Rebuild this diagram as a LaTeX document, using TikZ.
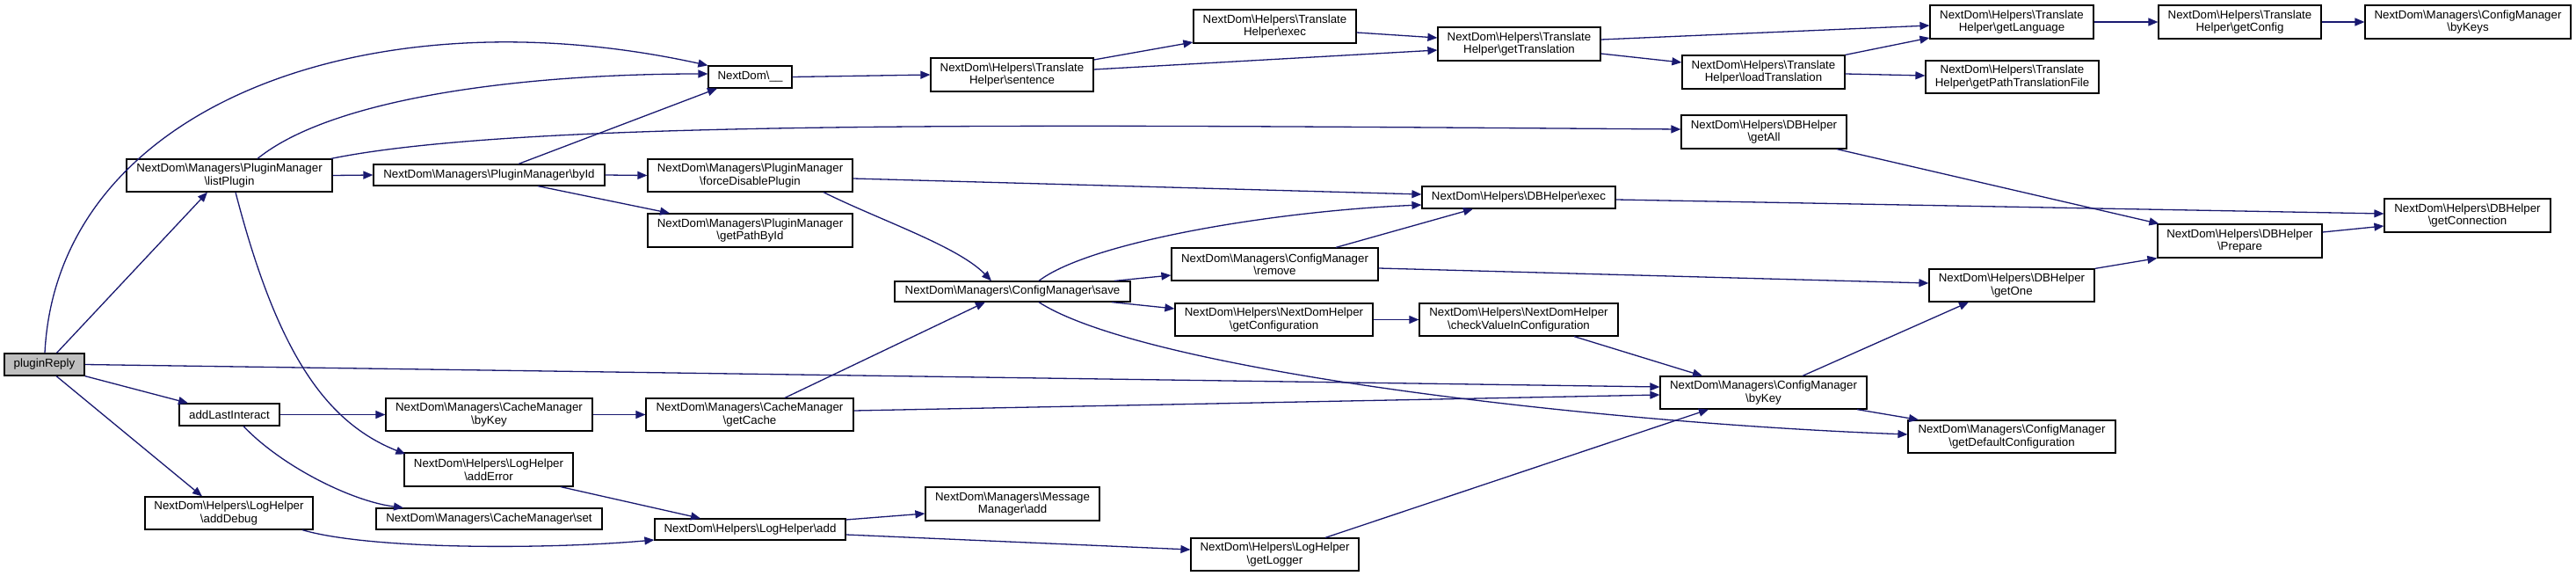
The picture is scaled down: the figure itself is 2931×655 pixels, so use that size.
\documentclass[tikz,border=0pt]{standalone}
\usepackage{fontspec}
\setmainfont{Liberation Sans}
\usetikzlibrary{arrows.meta}
\definecolor{edgeblue}{HTML}{191970}
\definecolor{rootgray}{HTML}{BFBFBF}
\newcommand{\bk}{\textbackslash}
\tikzset{
  fn/.style={draw=black, line width=1.2pt, fill=white, inner sep=0pt, align=center,
    font=\fontsize{13.3}{14.5}\selectfont},
  call/.style={draw=edgeblue, line width=1.3pt, -{Triangle[length=11pt,width=9pt]}},
}
\begin{document}
\begin{tikzpicture}[x=1pt,y=-1pt]
\useasboundingbox[fill=white] (0,0) rectangle (2931,655);
% nodes
\node[fn, fill=rootgray, minimum width=91pt, minimum height=25pt] (pr) at (50.5,414.5) {pluginReply};
\node[fn, minimum width=234pt, minimum height=37pt] (lp) at (261,199.5) {NextDom\bk Managers\bk PluginManager\\\bk listPlugin};
\node[fn, minimum width=114pt, minimum height=25pt] (ali) at (261,471.5) {addLastInteract};
\node[fn, minimum width=191pt, minimum height=37pt] (adbg) at (260.5,583.5) {NextDom\bk Helpers\bk LogHelper\\\bk addDebug};
\node[fn, minimum width=95pt, minimum height=25pt] (ndu) at (853.5,87.5) {NextDom\bk\_\_};
\node[fn, minimum width=263pt, minimum height=24pt] (byid) at (556.5,199) {NextDom\bk Managers\bk PluginManager\bk byId};
\node[fn, minimum width=235pt, minimum height=37pt] (cbk) at (556.5,471.5) {NextDom\bk Managers\bk CacheManager\\\bk byKey};
\node[fn, minimum width=192pt, minimum height=38pt] (aerr) at (556,534) {NextDom\bk Helpers\bk LogHelper\\\bk addError};
\node[fn, minimum width=257pt, minimum height=24pt] (cset) at (556.5,590) {NextDom\bk Managers\bk CacheManager\bk set};
\node[fn, minimum width=185pt, minimum height=38pt] (sent) at (1151.5,85) {NextDom\bk Helpers\bk Translate\\Helper\bk sentence};
\node[fn, minimum width=233pt, minimum height=37pt] (fdp) at (853.5,199.5) {NextDom\bk Managers\bk PluginManager\\\bk forceDisablePlugin};
\node[fn, minimum width=233pt, minimum height=38pt] (gpbi) at (853.5,262) {NextDom\bk Managers\bk PluginManager\\\bk getPathById};
\node[fn, minimum width=236pt, minimum height=37pt] (gc) at (853,471.5) {NextDom\bk Managers\bk CacheManager\\\bk getCache};
\node[fn, minimum width=217pt, minimum height=24pt] (ladd) at (853.5,602) {NextDom\bk Helpers\bk LogHelper\bk add};
\node[fn, minimum width=185pt, minimum height=38pt] (texec) at (1450.5,30) {NextDom\bk Helpers\bk Translate\\Helper\bk exec};
\node[fn, minimum width=185pt, minimum height=38pt] (gt) at (1728.5,50) {NextDom\bk Helpers\bk Translate\\Helper\bk getTranslation};
\node[fn, minimum width=268pt, minimum height=23pt] (save) at (1152,331.5) {NextDom\bk Managers\bk ConfigManager\bk save};
\node[fn, minimum width=235pt, minimum height=37pt] (rem) at (1450.5,300.5) {NextDom\bk Managers\bk ConfigManager\\\bk remove};
\node[fn, minimum width=225pt, minimum height=37pt] (gconf) at (1449.5,363.5) {NextDom\bk Helpers\bk NextDomHelper\\\bk getConfiguration};
\node[fn, minimum width=198pt, minimum height=38pt] (madd) at (1152,573) {NextDom\bk Managers\bk Message\\Manager\bk add};
\node[fn, minimum width=191pt, minimum height=37pt] (glog) at (1450.5,630.5) {NextDom\bk Helpers\bk LogHelper\\\bk getLogger};
\node[fn, minimum width=220pt, minimum height=25pt] (dbexec) at (1728,224.5) {NextDom\bk Helpers\bk DBHelper\bk exec};
\node[fn, minimum width=226pt, minimum height=37pt] (cvic) at (1728,363.5) {NextDom\bk Helpers\bk NextDomHelper\\\bk checkValueInConfiguration};
\node[fn, minimum width=185pt, minimum height=38pt] (lt) at (2006.5,82) {NextDom\bk Helpers\bk Translate\\Helper\bk loadTranslation};
\node[fn, minimum width=188pt, minimum height=38pt] (gall) at (2007,150) {NextDom\bk Helpers\bk DBHelper\\\bk getAll};
\node[fn, minimum width=235pt, minimum height=37pt] (cmbk) at (2006.5,446.5) {NextDom\bk Managers\bk ConfigManager\\\bk byKey};
\node[fn, minimum width=186pt, minimum height=38pt] (glang) at (2289,25) {NextDom\bk Helpers\bk Translate\\Helper\bk getLanguage};
\node[fn, minimum width=197pt, minimum height=37pt] (gptf) at (2289.5,87.5) {NextDom\bk Helpers\bk Translate\\Helper\bk getPathTranslationFile};
\node[fn, minimum width=188pt, minimum height=37pt] (gone) at (2289,324.5) {NextDom\bk Helpers\bk DBHelper\\\bk getOne};
\node[fn, minimum width=236pt, minimum height=37pt] (gdc) at (2289,496.5) {NextDom\bk Managers\bk ConfigManager\\\bk getDefaultConfiguration};
\node[fn, minimum width=185pt, minimum height=38pt] (gcfg) at (2548.5,25) {NextDom\bk Helpers\bk Translate\\Helper\bk getConfig};
\node[fn, minimum width=187pt, minimum height=38pt] (prep) at (2548.5,274) {NextDom\bk Helpers\bk DBHelper\\\bk Prepare};
\node[fn, minimum width=234pt, minimum height=38pt] (bykeys) at (2808,25) {NextDom\bk Managers\bk ConfigManager\\\bk byKeys};
\node[fn, minimum width=189pt, minimum height=38pt] (gconn) at (2807.5,245) {NextDom\bk Helpers\bk DBHelper\\\bk getConnection};
% connectors
\draw[call] ([xshift=0.5pt]pr.north) .. controls (65,120) and (420,-10) .. (ndu.north west);
\draw[call] ([xshift=14pt]pr.north) -- ([xshift=-25pt]lp.south);
\draw[call] (pr.east) -- ([yshift=6.5pt]cmbk.west);
\draw[call] (pr.south east) -- ([xshift=-47pt]ali.north);
\draw[call] ([xshift=13.5pt]pr.south) -- ([xshift=-30.5pt]adbg.north);
\draw[call] ([xshift=32pt]lp.north) .. controls (380,110) and (600,84) .. ([yshift=3.5pt]ndu.west);
\draw[call] (lp.east) -- (byid.west);
\draw[call] ([xshift=-2pt]lp.north east) .. controls (600,135) and (1200,142) .. ([yshift=3pt]gall.west);
\draw[call] ([xshift=7pt]lp.south) .. controls (315,400) and (370,480) .. ([xshift=2pt,yshift=-2pt]aerr.north west);
\draw[call] ([xshift=33.5pt]byid.north) -- ([xshift=-37.5pt]ndu.south);
\draw[call] (byid.east) -- (fdp.west);
\draw[call] ([xshift=55.5pt]byid.south) -- ([xshift=-91.5pt]gpbi.north);
\draw[call] (ndu.east) -- (sent.west);
\draw[call] ([yshift=17pt]sent.east) -- ([yshift=-18pt]texec.west);
\draw[call] ([yshift=6pt]sent.east) -- ([yshift=-7pt]gt.west);
\draw[call] ([yshift=-7pt]texec.east) -- ([yshift=7pt]gt.west);
\draw[call] ([yshift=5pt]gt.east) -- ([yshift=-4pt]glang.west);
\draw[call] ([yshift=-11pt]gt.east) -- ([yshift=11pt]lt.west);
\draw[call] (lt.north east) -- ([yshift=-18pt]glang.west);
\draw[call] ([yshift=-2pt]lt.east) -- ([yshift=1.5pt]gptf.west);
\draw[call] (glang.east) -- (gcfg.west);
\draw[call] (gcfg.east) -- (bykeys.west);
\draw[call] ([yshift=-3.5pt]fdp.east) -- ([yshift=3.5pt]dbexec.west);
\draw[call] ([xshift=83.5pt]fdp.south) .. controls (1000,250) and (1090,280) .. ([xshift=-24pt]save.north);
\draw[call] ([xshift=30pt]save.north) .. controls (1240,275) and (1450,240) .. ([yshift=-8.5pt]dbexec.west);
\draw[call] ([xshift=116pt]save.north) -- ([yshift=-12.5pt]rem.west);
\draw[call] ([xshift=113pt]save.south) -- ([yshift=12.5pt]gconf.west);
\draw[call] ([xshift=30pt]save.south) .. controls (1300,420) and (1800,480) .. ([yshift=2.5pt]gdc.west);
\draw[call] ([xshift=69.5pt]rem.north) -- ([xshift=-52pt]dbexec.south);
\draw[call] ([yshift=-4.5pt]rem.east) -- ([yshift=2.5pt]gone.west);
\draw[call] (gconf.east) -- (cvic.west);
\draw[call] ([xshift=63pt]cvic.south) -- ([xshift=-69.5pt]cmbk.north);
\draw[call] ([yshift=-2.5pt]dbexec.east) -- ([yshift=2pt]gconn.west);
\draw[call] ([xshift=83pt]gall.south) -- ([xshift=2pt]prep.north west);
\draw[call] ([yshift=10pt]prep.east) -- ([yshift=-12pt]gconn.west);
\draw[call] (gone.north east) -- (prep.south west);
\draw[call] ([xshift=44.5pt]cmbk.north) -- ([xshift=-49pt]gone.south);
\draw[call] ([xshift=106.5pt]cmbk.south) -- ([xshift=-106pt]gdc.north);
\draw[call] ([xshift=40pt]gc.north) -- ([xshift=-31pt]save.south);
\draw[call] ([yshift=4.5pt]gc.east) -- ([yshift=-2.5pt]cmbk.west);
\draw[call] (cbk.east) -- (gc.west);
\draw[call] (ali.east) -- (cbk.west);
\draw[call] ([xshift=16pt]ali.south) .. controls (320,530) and (400,570) .. ([xshift=-97.5pt]cset.north);
\draw[call] ([xshift=82pt]aerr.south) -- ([xshift=-56.5pt]ladd.north);
\draw[call] ([xshift=83.5pt]adbg.south) .. controls (420,625) and (620,625) .. ([yshift=-12pt]ladd.west);
\draw[call] ([yshift=11pt]ladd.east) -- ([yshift=-11pt]madd.west);
\draw[call] ([yshift=-6pt]ladd.east) -- ([yshift=5.5pt]glog.west);
\draw[call] ([xshift=57.5pt]glog.north) -- ([xshift=-62.5pt]cmbk.south);
\end{tikzpicture}
\end{document}
